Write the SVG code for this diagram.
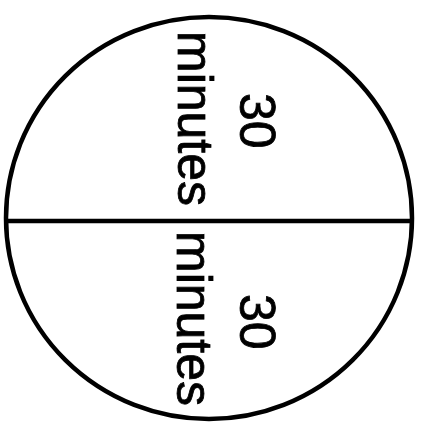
<svg xmlns="http://www.w3.org/2000/svg" width="421" height="425" viewBox="0 0 421 425">
  <style>
    .stroke { fill: none; stroke: #000; stroke-width: 4.5; }
    .lbl { font-family: "Liberation Sans", Arial, sans-serif; font-size: 50px; fill: #000; stroke: #000; stroke-width: 0.8; }
  </style>
  <rect x="0" y="0" width="421" height="425" fill="#fff"/>
  <g id="circle">
    <ellipse class="stroke" cx="209" cy="218" rx="203" ry="201"/>
  </g>
  <g id="connectors">
    <line class="stroke" x1="6" y1="221" x2="412" y2="221"/>
  </g>
  <g id="top-half">
    <text class="lbl" transform="translate(178,31) rotate(90)">minutes</text>
    <text class="lbl" transform="translate(240,93) rotate(90)">30</text>
  </g>
  <g id="bottom-half">
    <text class="lbl" transform="translate(177,231) rotate(90)">minutes</text>
    <text class="lbl" transform="translate(240,294) rotate(90)">30</text>
  </g>
</svg>
